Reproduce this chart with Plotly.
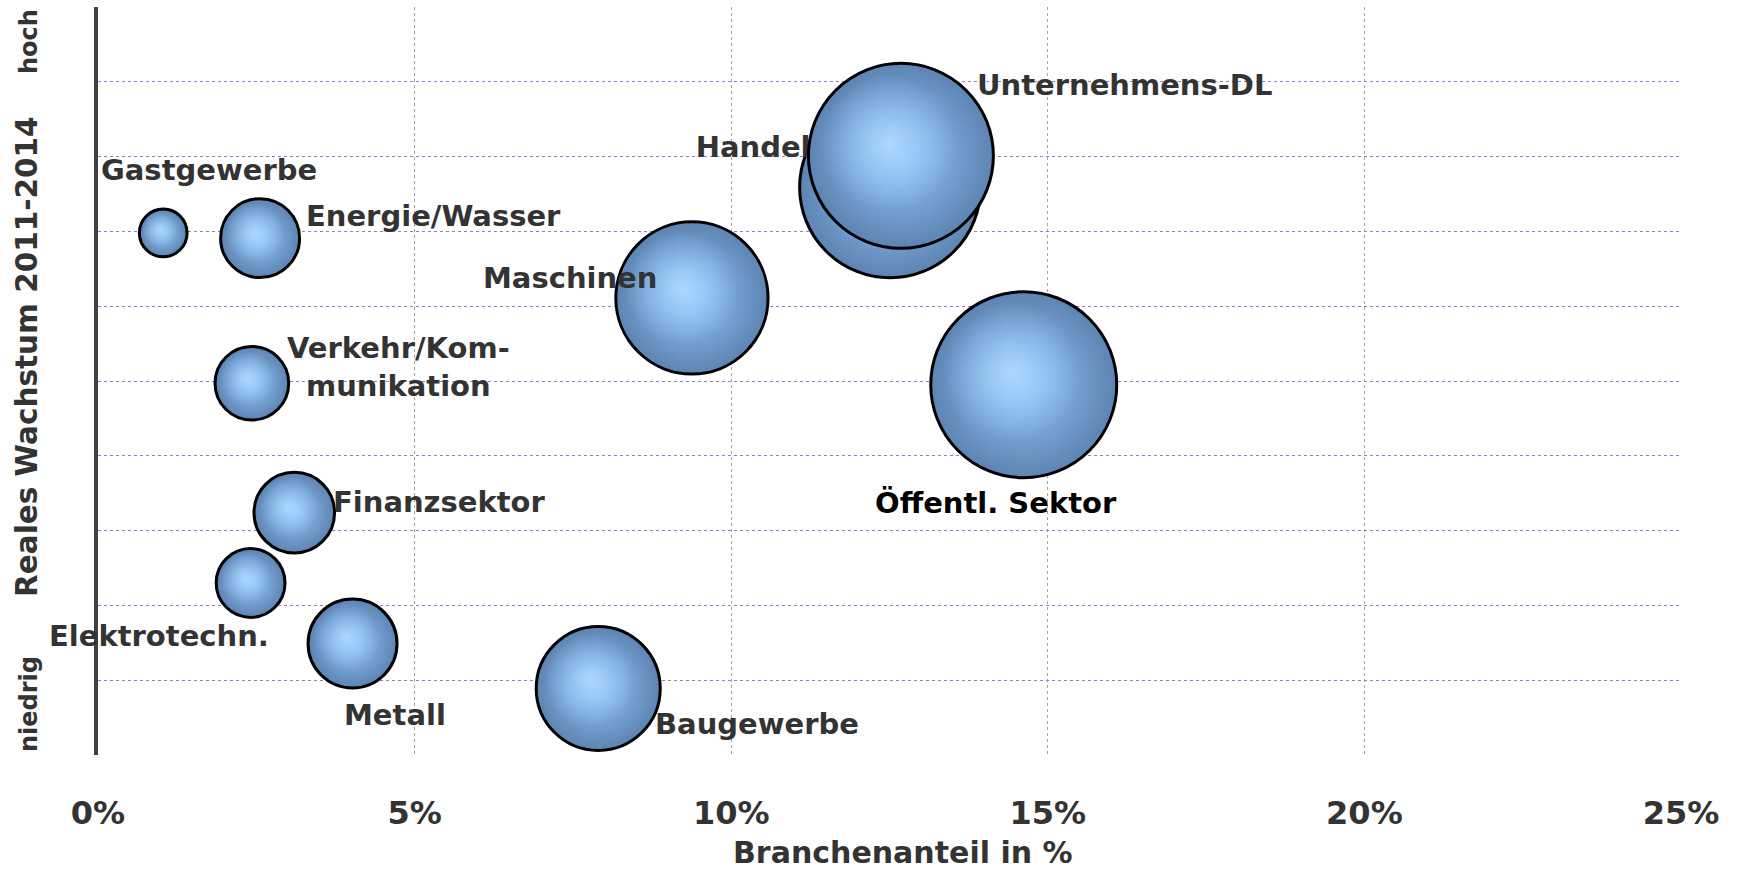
import math
import plotly.graph_objects as go

# --- data -------------------------------------------------------------------
branchen = ["Gastgewerbe", "Energie/Wasser", "Verkehr/Kom-\nmunikation", "Finanzsektor",
            "Elektrotechn.", "Metall", "Baugewerbe", "Maschinen", "Handel",
            "Unternehmens-DL", "Öffentl. Sektor"]
anteil = [1.03, 2.56, 2.43, 3.10, 2.41, 4.02, 7.90, 9.38, 12.51, 12.68, 14.62]      # Branchenanteil in %
wachstum = [6.98, 6.91, 4.97, 3.24, 2.30, 1.49, 0.89, 6.11, 7.59, 8.01, 4.95]      # relatives Wachstum (0 = niedrig, 10 = hoch)
gewicht = [0.96, 2.63, 2.29, 2.74, 2.00, 3.34, 6.49, 9.78, 13.83, 14.44, 14.60]    # Blasengröße

x_ticks = [0, 5, 10, 15, 20, 25]
x_tick_labels = ["0%", "5%", "10%", "15%", "20%", "25%"]
x_title = "Branchenanteil in %"
y_title = "Reales Wachstum 2011-2014"
y_high, y_low = "hoch", "niedrig"

# --- layout constants ---------------------------------------------------------
W, H = 1738, 872
ML, MR, MT, MB = 98, 57, 7, 117
X_RANGE = (0, 25)
Y_RANGE = (0, 10)
PX_X = (W - ML - MR) / (X_RANGE[1] - X_RANGE[0])
PX_Y = (H - MT - MB) / (Y_RANGE[1] - Y_RANGE[0])

FONT = "DejaVu Sans"
TXT = "#333333"
LABEL_SIZE = 29
SIZEREF = 2 * max(gewicht) / 186 ** 2

# glossy highlight inside each bubble: relative radius and shift towards upper left
GLOSS_SCALE = 0.74
GLOSS_SHIFT = 0.13

# label offsets from the bubble centre in pixels (dx right, dy down)
label_offset = {
    "Gastgewerbe": (46, -63),
    "Energie/Wasser": (173, -22),
    "Verkehr/Kom-\nmunikation": (147, -16),
    "Finanzsektor": (145, -11),
    "Elektrotechn.": (-92, 53),
    "Metall": (42, 71),
    "Baugewerbe": (159, 36),
    "Maschinen": (-122, -20),
    "Handel": (-137, -38),
    "Unternehmens-DL": (224, -71),
    "Öffentl. Sektor": (-28, 118),
}
label_color = {"Öffentl. Sektor": "#000000"}

TOP = "Unternehmens-DL"      # drawn last, above the Handel label
BELOW = "Handel"             # label sits underneath the top bubble


def radius_px(g):
    return math.sqrt(g / (2 * SIZEREF))


def bubbles(idx):
    return go.Scatter(
        x=[anteil[i] for i in idx],
        y=[wachstum[i] for i in idx],
        mode="markers",
        marker=dict(
            size=[gewicht[i] for i in idx],
            sizemode="area",
            sizeref=SIZEREF,
            opacity=1,
            color="#5d84b3",
            gradient=dict(type="radial", color="#93c6f6"),
            line=dict(color="#000000", width=3),
        ),
        cliponaxis=False,
        hoverinfo="skip",
        showlegend=False,
    )


def gloss(idx):
    shift = [GLOSS_SHIFT * radius_px(gewicht[i]) for i in idx]
    return go.Scatter(
        x=[anteil[i] - s / PX_X for i, s in zip(idx, shift)],
        y=[wachstum[i] + s / PX_Y for i, s in zip(idx, shift)],
        mode="markers",
        marker=dict(
            size=[gewicht[i] * GLOSS_SCALE ** 2 for i in idx],
            sizemode="area",
            sizeref=SIZEREF,
            opacity=1,
            color="rgba(150,200,250,0)",
            gradient=dict(type="radial", color="rgba(172,216,255,1)"),
            line=dict(width=0),
        ),
        cliponaxis=False,
        hoverinfo="skip",
        showlegend=False,
    )


fig = go.Figure()
i_top = branchen.index(TOP)
rest = [i for i in range(len(branchen)) if i != i_top]
fig.add_trace(bubbles(rest))
fig.add_trace(gloss(rest))

# label that is partly covered by the top bubble
i_b = branchen.index(BELOW)
dx, dy = label_offset[BELOW]
fig.add_trace(go.Scatter(
    x=[anteil[i_b] + dx / PX_X],
    y=[wachstum[i_b] - dy / PX_Y],
    mode="text",
    text=[BELOW],
    textposition="middle center",
    textfont=dict(family=FONT, size=LABEL_SIZE, color=TXT, weight="bold"),
    cliponaxis=False,
    hoverinfo="skip",
    showlegend=False,
))

fig.add_trace(bubbles([i_top]))
fig.add_trace(gloss([i_top]))

annotations = []
for i, name in enumerate(branchen):
    if name == BELOW:
        continue
    dx, dy = label_offset[name]
    annotations.append(dict(
        x=anteil[i], y=wachstum[i], xref="x", yref="y",
        xshift=dx, yshift=-dy,
        text=name.replace("\n", "<br>"),
        showarrow=False, xanchor="center", yanchor="middle", align="center",
        font=dict(family=FONT, size=LABEL_SIZE, color=label_color.get(name, TXT), weight="bold"),
    ))

# axis titles and the hoch / niedrig markers on the left side
def paper_x(px):
    return (px - ML) / (W - ML - MR)

def paper_y(py):
    return 1 - (py - MT) / (H - MT - MB)

annotations += [
    dict(x=paper_x(903), y=paper_y(852), xref="paper", yref="paper", text=x_title,
         showarrow=False, xanchor="center", yanchor="middle",
         font=dict(family=FONT, size=30, color=TXT, weight="bold")),
    dict(x=paper_x(27), y=paper_y(357), xref="paper", yref="paper", text=y_title,
         textangle=-90, showarrow=False, xanchor="center", yanchor="middle",
         font=dict(family=FONT, size=29.5, color=TXT, weight="bold")),
    dict(x=paper_x(29), y=paper_y(42), xref="paper", yref="paper", text=y_high,
         textangle=-90, showarrow=False, xanchor="center", yanchor="middle",
         font=dict(family=FONT, size=24, color=TXT, weight="bold")),
    dict(x=paper_x(29), y=paper_y(704), xref="paper", yref="paper", text=y_low,
         textangle=-90, showarrow=False, xanchor="center", yanchor="middle",
         font=dict(family=FONT, size=24, color=TXT, weight="bold")),
]

fig.update_layout(
    width=W, height=H,
    margin=dict(l=ML, r=MR, t=MT, b=MB, pad=0),
    paper_bgcolor="white", plot_bgcolor="white",
    showlegend=False,
    annotations=annotations,
    xaxis=dict(
        range=list(X_RANGE), tickmode="array", tickvals=x_ticks, ticktext=x_tick_labels,
        showgrid=True, gridcolor="#a3a3a3", gridwidth=1, griddash="dot",
        zeroline=False, showline=False,
        ticks="outside", ticklen=30, tickcolor="rgba(0,0,0,0)",
        tickfont=dict(family=FONT, size=32, color=TXT, weight="bold"),
        fixedrange=True,
    ),
    yaxis=dict(
        range=list(Y_RANGE), dtick=1, showticklabels=False,
        showgrid=True, gridcolor="#8585cf", gridwidth=1, griddash="dot",
        zeroline=False, showline=True, linecolor="#404040", linewidth=4,
        ticks="", fixedrange=True,
    ),
)

fig.write_html("out.html")
